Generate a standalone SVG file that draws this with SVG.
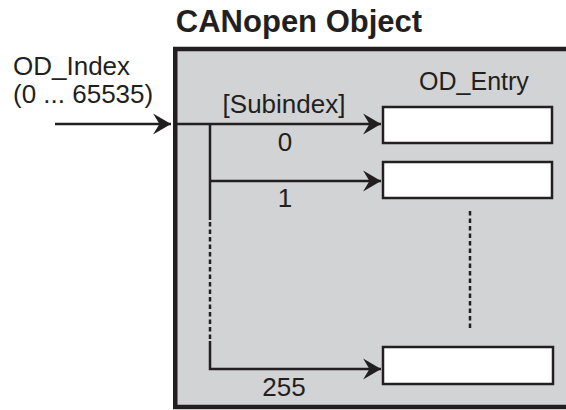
<svg xmlns="http://www.w3.org/2000/svg" width="566" height="410" viewBox="0 0 566 410">
<style>
text{font-family:"Liberation Sans",Arial,sans-serif;fill:#231f20}
.t{font-size:26px}
.line{stroke:#231f20;stroke-width:2.5;fill:none}
.dash{stroke:#231f20;stroke-width:2.5;fill:none;stroke-dasharray:4.5 3}
.entry{fill:#fff;stroke:#231f20;stroke-width:2.5}
</style>
<defs>
<marker id="ah" markerUnits="userSpaceOnUse" markerWidth="20" markerHeight="24" viewBox="-17 -11 19 22" refX="0" refY="0" orient="auto">
<path d="M0,0 L-17,-10 L-11,0 L-17,10 Z" fill="#231f20"/>
</marker>
</defs>
<rect x="0" y="0" width="566" height="410" fill="#fff"/>
<g id="object">
<rect x="175.25" y="49" width="400" height="358" fill="#d1d3d4" stroke="#231f20" stroke-width="4.5"/>
<text x="299" y="32" font-size="31" font-weight="bold" text-anchor="middle">CANopen Object</text>
</g>
<g id="index-label">
<text class="t" x="13" y="75">OD_Index</text>
<text class="t" x="13" y="103">(0 ... 65535)</text>
</g>
<g id="entry-label">
<text class="t" x="474" y="90" text-anchor="middle" font-size="25" style="font-size:25px">OD_Entry</text>
</g>
<g id="entry0"><rect class="entry" x="383" y="107" width="169" height="36"/></g>
<g id="entry1"><rect class="entry" x="383" y="162" width="169" height="36"/></g>
<g id="entry255"><rect class="entry" x="383" y="347" width="170" height="37"/></g>
<g id="connectors">
<line class="line" x1="55" y1="124" x2="171" y2="124" marker-end="url(#ah)"/>
<line class="line" x1="177" y1="124" x2="381" y2="124" marker-end="url(#ah)"/>
<polyline class="line" points="210,124 210,220"/>
<line class="dash" x1="210" y1="222" x2="210" y2="340"/>
<polyline class="line" points="210,341 210,369 381,369" marker-end="url(#ah)"/>
<line class="line" x1="210" y1="181" x2="381" y2="181" marker-end="url(#ah)"/>
<line class="dash" x1="470" y1="211" x2="470" y2="331"/>
<text class="t" x="284" y="113" text-anchor="middle">[Subindex]</text>
<text class="t" x="285" y="151" text-anchor="middle">0</text>
<text class="t" x="285" y="207" text-anchor="middle">1</text>
<text class="t" x="284" y="396" text-anchor="middle">255</text>
</g>
</svg>
